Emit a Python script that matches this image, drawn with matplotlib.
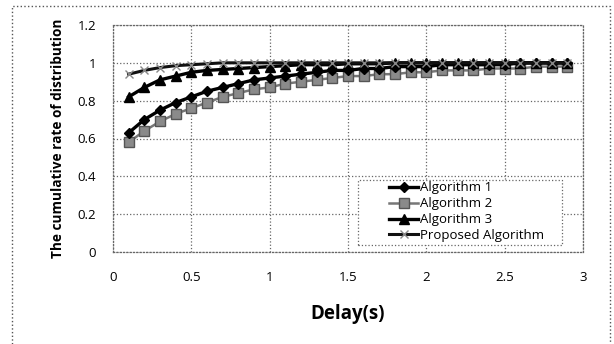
import matplotlib
matplotlib.use("Agg")
import matplotlib.pyplot as plt
import numpy as np
from matplotlib.patches import Rectangle

delay = [0.1, 0.2, 0.3, 0.4, 0.5, 0.6, 0.7, 0.8, 0.9, 1.0,
         1.1, 1.2, 1.3, 1.4, 1.5, 1.6, 1.7, 1.8, 1.9, 2.0,
         2.1, 2.2, 2.3, 2.4, 2.5, 2.6, 2.7, 2.8, 2.9]
alg1 = [0.63, 0.70, 0.75, 0.79, 0.82, 0.85, 0.87, 0.89, 0.91, 0.92,
        0.93, 0.94, 0.95, 0.96, 0.96, 0.97, 0.97, 0.98, 0.98, 0.98,
        0.99, 0.99, 0.99, 0.99, 0.99, 1.00, 1.00, 1.00, 1.00]
alg2 = [0.58, 0.64, 0.69, 0.73, 0.76, 0.79, 0.82, 0.84, 0.86, 0.87,
        0.89, 0.90, 0.91, 0.92, 0.93, 0.93, 0.94, 0.94, 0.95, 0.95,
        0.96, 0.96, 0.96, 0.97, 0.97, 0.97, 0.98, 0.98, 0.98]
alg3 = [0.82, 0.87, 0.91, 0.93, 0.95, 0.96, 0.965, 0.97, 0.975, 0.98,
        0.985, 0.99, 0.99, 0.99, 0.995, 0.995, 0.995, 1.0, 1.0, 1.0,
        1.0, 1.0, 1.0, 1.0, 1.0, 1.0, 1.0, 1.0, 1.0]
proposed = [0.94, 0.96, 0.975, 0.985, 0.99, 0.995, 1.0, 1.0, 1.0, 1.0,
            1.0, 1.0, 1.0, 1.0, 1.0, 1.0, 1.0, 1.0, 1.0, 1.0,
            1.0, 1.0, 1.0, 1.0, 1.0, 1.0, 1.0, 1.0, 1.0]
labels = ["Algorithm 1", "Algorithm 2", "Algorithm 3", "Proposed Algorithm"]
xticks = [0, 0.5, 1, 1.5, 2, 2.5, 3]
yticks = [0, 0.2, 0.4, 0.6, 0.8, 1.0, 1.2]
xtick_labels = ["0", "0.5", "1", "1.5", "2", "2.5", "3"]
ytick_labels = ["0", "0.2", "0.4", "0.6", "0.8", "1", "1.2"]

plt.rcParams['font.family'] = ['Open Sans', 'DejaVu Sans']

fig = plt.figure(figsize=(6.14, 3.44), dpi=100)
fig.patches.append(Rectangle((12/614, -0.01), (610-12)/614, 1 - 6/344 + 0.01,
                             transform=fig.transFigure, fill=False,
                             edgecolor='#555555', linewidth=1.0, linestyle=':'))
ax = fig.add_axes([113/614, 1-252/344, (583-113)/614, (252-25)/344])

ax.plot(delay, alg1, color='black', lw=2.4, marker='D', ms=5.5, label=labels[0], zorder=4)
ax.plot(delay, alg2, color='#777777', lw=1.8, marker='s', ms=6.5, mfc='#8a8a8a',
        mec='#555555', label=labels[1], zorder=3)
ax.plot(delay, alg3, color='black', lw=2.4, marker='^', ms=6.5, label=labels[2], zorder=4)
ax.plot(delay, proposed, color='#111111', lw=2.2, marker='x', ms=6, mec='#888888',
        mew=1.0, label=labels[3], zorder=5)

ax.set_xlim(0, 3)
ax.set_ylim(0, 1.2)
ax.set_xticks(xticks)
ax.set_xticklabels(xtick_labels)
ax.set_yticks(yticks)
ax.set_yticklabels(ytick_labels)
ax.tick_params(axis='x', length=0, pad=14, labelsize=9.5)
ax.tick_params(axis='y', length=0, pad=12, labelsize=9.5)
ax.grid(True, color='#666666', linestyle=':', linewidth=0.9)
for s in ax.spines.values():
    s.set_color('#666666')
    s.set_linestyle(':')
    s.set_linewidth(0.9)
ax.set_xlabel("Delay(s)", fontsize=13.5, fontweight='bold', labelpad=14)
ax.set_ylabel("The cumulative rate of distribution", fontsize=9.8, fontweight='bold', labelpad=9)

ax.add_patch(Rectangle((0.521, 0.031), 0.434, 0.286, transform=ax.transAxes,
                       facecolor='white', edgecolor='#666666', linestyle=':',
                       linewidth=0.9, zorder=6))
leg = ax.legend(loc='upper left', bbox_to_anchor=((388-113)/470, (252-180)/227),
                fontsize=9.5, frameon=False, handlelength=2.2, borderpad=0.1,
                labelspacing=0.22, handletextpad=0.1, borderaxespad=0)
leg.set_zorder(7)

fig.savefig("out.png", dpi=100)
